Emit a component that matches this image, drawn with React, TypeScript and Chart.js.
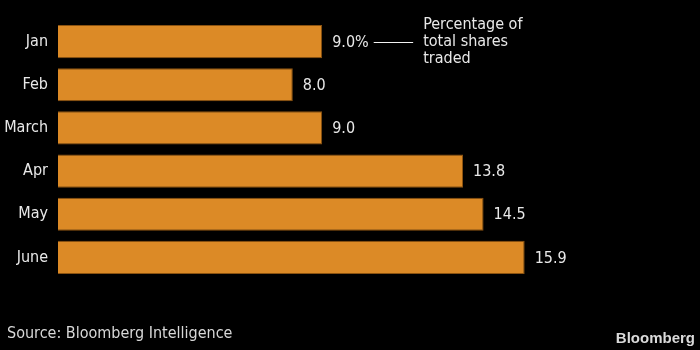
import React, { useEffect, useRef } from "react";
import { Chart, registerables } from "chart.js";

Chart.register(...registerables);

const categories = ["Jan", "Feb", "March", "Apr", "May", "June"];
const values = [9.0, 8.0, 9.0, 13.8, 14.5, 15.9];
const valueLabels = ["9.0%", "8.0", "9.0", "13.8", "14.5", "15.9"];
const annotationLines = ["Percentage of", "total shares", "traded"];
const sourceText = "Source: Bloomberg Intelligence";
const logoText = "Bloomberg";

const FONT = "'Liberation Sans Narrow', 'DejaVu Sans Condensed', 'Liberation Sans', sans-serif";
const TEXT = "#e8e8e8";

const overlay = {
  id: "overlay",
  afterDatasetsDraw(chart: any) {
    const ctx = chart.ctx;
    const meta = chart.getDatasetMeta(0);
    ctx.save();
    ctx.font = `16px ${FONT}`;
    ctx.fillStyle = TEXT;
    ctx.textBaseline = "middle";
    ctx.textAlign = "left";
    let firstX = 0;
    let firstY = 0;
    let firstEnd = 0;
    meta.data.forEach((bar: any, i: number) => {
      const x = bar.x + 10;
      ctx.fillText(valueLabels[i], x, bar.y + 1);
      if (i === 0) {
        firstX = x;
        firstY = bar.y;
        firstEnd = x + ctx.measureText(valueLabels[i]).width;
      }
    });
    // annotation connector
    const ly = Math.round(firstY) + 0.5;
    ctx.strokeStyle = "#f2f2f2";
    ctx.lineWidth = 1;
    ctx.beginPath();
    ctx.moveTo(Math.max(firstX + 40, firstEnd + 5), ly);
    ctx.lineTo(firstX + 81, ly);
    ctx.stroke();
    ctx.textBaseline = "alphabetic";
    annotationLines.forEach((t, k) => {
      ctx.fillText(t, firstX + 91, firstY - 13 + k * 17);
    });
    // source
    ctx.fillStyle = "#d8d8d8";
    ctx.fillText(sourceText, 7, 338);
    // logo
    ctx.font = `bold 15px 'Liberation Sans', Arial, sans-serif`;
    ctx.textAlign = "right";
    ctx.fillStyle = "#d9d9d9";
    ctx.fillText(logoText, 695, 343);
    ctx.restore();
  },
};

export default function App() {
  const ref = useRef<HTMLCanvasElement | null>(null);
  useEffect(() => {
    document.body.style.margin = "0";
    document.body.style.background = "#000";
    const chart = new Chart(ref.current as HTMLCanvasElement, {
      type: "bar",
      data: {
        labels: categories,
        datasets: [
          {
            data: values,
            backgroundColor: "#dc8a26",
            borderColor: "#8a5210",
            borderWidth: 1,
            barPercentage: 0.77,
            categoryPercentage: 1,
          },
        ],
      },
      options: {
        indexAxis: "y",
        animation: false,
        responsive: false,
        maintainAspectRatio: false,
        layout: { padding: { left: 0, right: 55, top: 20, bottom: 71 } },
        plugins: { legend: { display: false }, tooltip: { enabled: false } },
        scales: {
          x: { display: false, min: 0, max: 20 },
          y: {
            grid: { display: false },
            border: { display: false },
            ticks: { color: TEXT, font: { size: 16, family: FONT }, padding: 2 },
            afterFit: (s: any) => {
              s.width = 58;
            },
          },
        },
      },
      plugins: [overlay],
    });
    return () => chart.destroy();
  }, []);
  return (
    <div style={{ position: "fixed", left: 0, top: 0, width: 700, height: 350, background: "#000" }}>
      <canvas ref={ref} width={700} height={350} style={{ width: 700, height: 350, display: "block" }} />
    </div>
  );
}
